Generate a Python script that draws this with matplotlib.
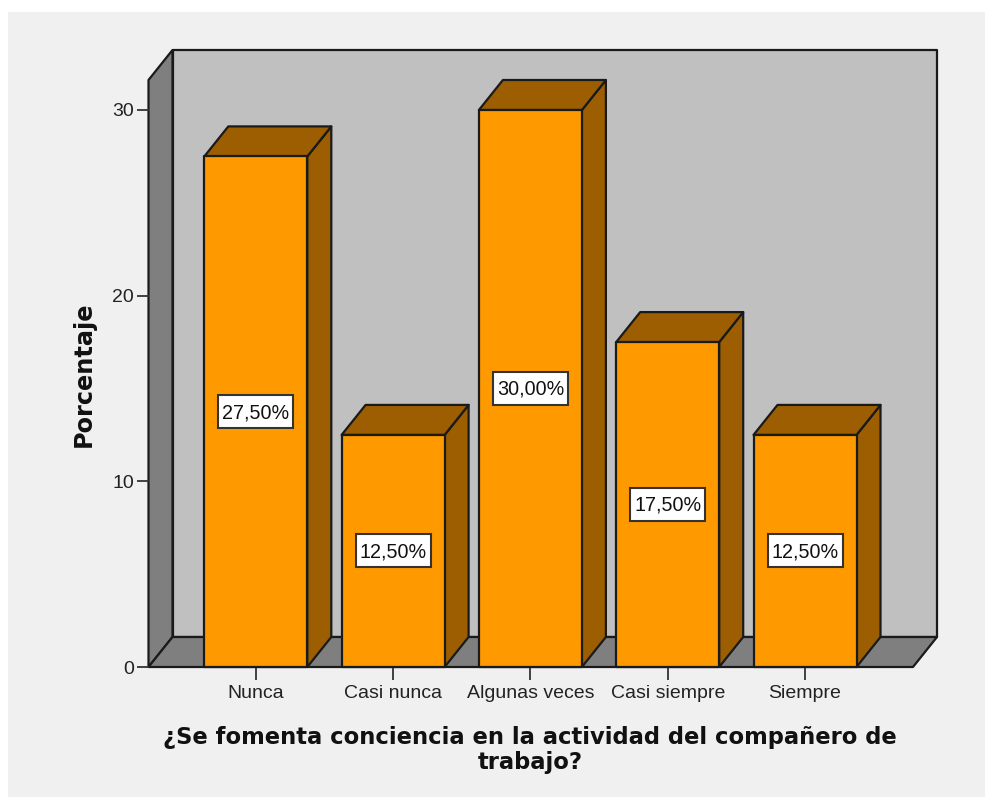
import matplotlib
matplotlib.use("Agg")
import matplotlib.pyplot as plt
from matplotlib.patches import Polygon, Rectangle

# datos
categorias = ["Nunca", "Casi nunca", "Algunas veces", "Casi siempre", "Siempre"]
porcentajes = [27.5, 12.5, 30.0, 17.5, 12.5]
etiquetas = ["27,50%", "12,50%", "30,00%", "17,50%", "12,50%"]
ticks_y = [0, 10, 20, 30]

W, H = 987, 799
NARANJA = "#FF9900"
MARRON = "#9C5E00"
PARED = "#C0C0C0"
GRIS = "#7F7F7F"
BORDE = "#1a1a1a"

fig = plt.figure(figsize=(W / 100, H / 100), dpi=100, facecolor="white")
fig.patches.append(Rectangle((8 / W, 1 - 797 / H), 977 / W, 785 / H, transform=fig.transFigure,
                             facecolor="#F0F0F0", edgecolor="none", zorder=-5))

# plano frontal: x 148-913, y 667 (0) a 110 (30)
x0, x1, y0, y1 = 148.5, 913, 667, 110
ax = fig.add_axes([x0 / W, 1 - y0 / H, (x1 - x0) / W, (y0 - y1) / H])
ax.patch.set_visible(False)
paso = 137.3
centro = 255.8
ax.set_xlim((x0 - centro) / paso, (x1 - centro) / paso)
ax.set_ylim(0, 30)

# profundidad en unidades de datos
por_unidad = (y0 - y1) / 30
dx = 24 / paso
dy = 30 / por_unidad
ancho = 103 / paso
xa, xb = ax.get_xlim()
techo = 30 + dy  # la pared sigue una profundidad mas por encima del 30
caja_w = 75 / paso
caja_h = 33 / por_unidad


def cara(puntos, color, z, lw=1.6):
    ax.add_patch(Polygon(puntos, closed=True, facecolor=color, edgecolor=BORDE, linewidth=lw,
                         joinstyle="round", clip_on=False, zorder=z))


# paredes y suelo
cara([(xa + dx, dy), (xb + dx, dy), (xb + dx, techo + dy), (xa + dx, techo + dy)], PARED, 1)
cara([(xa, 0), (xa + dx, dy), (xa + dx, techo + dy), (xa, techo)], GRIS, 1.1)
cara([(xa, 0), (xb, 0), (xb + dx, dy), (xa + dx, dy)], GRIS, 1.2)

# barras
for i, v in enumerate(porcentajes):
    l, r = i - ancho / 2, i + ancho / 2
    z = 2 + i * 0.1
    cara([(r, 0), (r + dx, dy), (r + dx, v + dy), (r, v)], MARRON, z)
    cara([(l, v), (r, v), (r + dx, v + dy), (l + dx, v + dy)], MARRON, z)
    cara([(l, 0), (r, 0), (r, v), (l, v)], NARANJA, z + 0.01)
    ax.add_patch(Rectangle((i - caja_w / 2, v / 2 - caja_h / 2), caja_w, caja_h, facecolor="white",
                           edgecolor="#333333", linewidth=1.5, zorder=4))
    ax.text(i, v / 2 - 0.05, etiquetas[i], ha="center", va="center", fontsize=14.2, color="#111111",
            family="Liberation Sans", zorder=5)

# ejes
for s in ax.spines.values():
    s.set_visible(False)
ax.set_xticks(range(len(categorias)))
ax.set_xticklabels(categorias, family="Liberation Sans", fontsize=14, color="#222222")
ax.set_yticks(ticks_y)
ax.set_yticklabels([str(t) for t in ticks_y], family="Liberation Sans", fontsize=14, color="#222222")
ax.tick_params(axis="x", length=9, width=1.3, color="#333333", pad=4)
ax.tick_params(axis="y", length=8.5, width=1.3, color="#333333", pad=2)

fig.text(84 / W, 1 - 374 / H, "Porcentaje", rotation=90, ha="center", va="center",
         fontsize=17.3, fontweight="bold", color="#111111", family="DejaVu Sans")
fig.text(530 / W, 1 - 750 / H, "¿Se fomenta conciencia en la actividad del compañero de\ntrabajo?",
         ha="center", va="center", fontsize=16.3, fontweight="bold", color="#111111",
         family="DejaVu Sans", linespacing=1.1)

fig.savefig("out.png", dpi=100)
